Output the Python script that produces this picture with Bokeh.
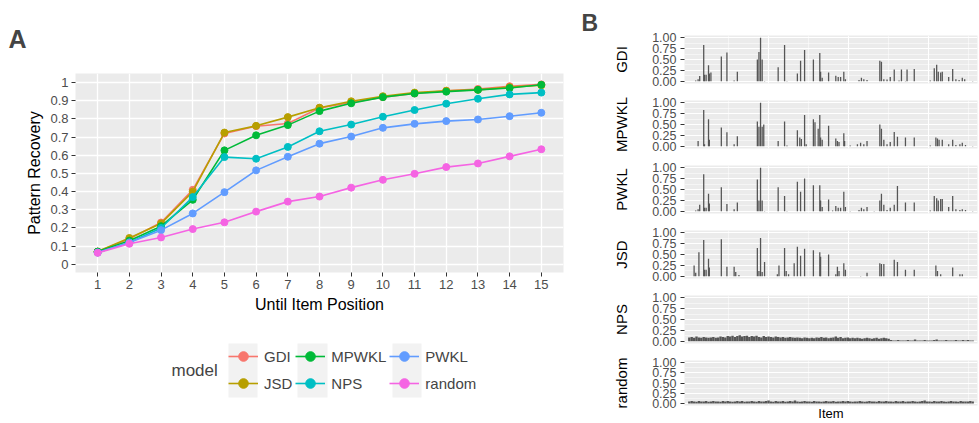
from bokeh.plotting import figure
from bokeh.layouts import row, column
from bokeh.models import (Range1d, FixedTicker, NumeralTickFormatter, Legend,
                          LegendItem, Label, Title, BoxAnnotation)
from bokeh.embed import file_html
from bokeh.resources import INLINE

FONT = "Liberation Sans"
GREY_TXT = "#4D4D4D"
PANEL = "#EBEBEB"

# ---- Panel A: pattern recovery by position ----
positions = list(range(1, 16))
y_ticks = [0, 0.1, 0.2, 0.3, 0.4, 0.5, 0.6, 0.7, 0.8, 0.9, 1.0]

model_names = ["GDI", "JSD", "MPWKL", "NPS", "PWKL", "random"]
model_colors = ["#F8766D", "#B79F00", "#00BA38", "#00BFC4", "#619CFF", "#F564E3"]

gdi = [0.07, 0.14, 0.23, 0.41, 0.72, 0.76, 0.775, 0.86, 0.89, 0.92, 0.94, 0.955, 0.965, 0.98, 0.99]
jsd = [0.07, 0.145, 0.225, 0.40, 0.725, 0.762, 0.81, 0.862, 0.897, 0.925, 0.945, 0.955, 0.96, 0.975, 0.985]
mpwkl = [0.07, 0.13, 0.21, 0.355, 0.627, 0.71, 0.766, 0.843, 0.886, 0.92, 0.94, 0.95, 0.96, 0.97, 0.988]
nps = [0.065, 0.12, 0.20, 0.37, 0.59, 0.581, 0.646, 0.732, 0.769, 0.812, 0.849, 0.884, 0.911, 0.935, 0.945]
pwkl = [0.065, 0.12, 0.188, 0.28, 0.397, 0.517, 0.592, 0.664, 0.703, 0.751, 0.773, 0.788, 0.797, 0.815, 0.834]
random_model = [0.063, 0.113, 0.148, 0.194, 0.231, 0.29, 0.345, 0.373, 0.422, 0.465, 0.498, 0.535, 0.555, 0.594, 0.633]
series = [gdi, jsd, mpwkl, nps, pwkl, random_model]

# ---- Panel B: per-item scores for each model ----
gdi_items = [9, 12, 14, 19, 20, 22, 25, 26, 28, 41, 48, 57, 61, 86, 88, 90, 92, 95, 112, 120, 123,
             136, 140, 145, 156, 164, 165, 167, 175, 184, 187, 190, 194, 196, 213, 216, 219, 223,
             239, 241, 244, 248, 252, 257, 263, 266, 271, 273, 282, 302, 307, 310, 312, 315, 317,
             325, 330, 334, 338, 342, 345, 355]
gdi_scores = [0.02, 0.05, 0.12, 0.83, 0.15, 0.15, 0.37, 0.18, 0.20, 0.57, 0.66, 0.02, 0.22, 0.50,
              0.67, 1.00, 0.50, 0.01, 0.32, 0.83, 0.01, 0.18, 0.47, 0.72, 0.50, 0.65, 0.22, 0.08,
              0.20, 0.13, 0.10, 0.10, 0.22, 0.05, 0.03, 0.08, 0.05, 0.03, 0.47, 0.45, 0.05, 0.04,
              0.10, 0.27, 0.02, 0.27, 0.01, 0.27, 0.28, 0.02, 0.30, 0.38, 0.22, 0.20, 0.22, 0.10,
              0.28, 0.05, 0.03, 0.08, 0.05, 0.01]

mpwkl_items = [12, 19, 20, 25, 26, 41, 48, 57, 61, 86, 88, 90, 92, 94, 112, 120, 123, 136, 139,
               141, 145, 147, 156, 158, 162, 164, 165, 167, 175, 184, 186, 188, 194, 195, 202, 211,
               215, 219, 223, 239, 241, 244, 248, 252, 257, 261, 271, 282, 302, 309, 311, 313, 317,
               325, 330, 334, 339, 342, 346, 355]
mpwkl_scores = [0.12, 0.83, 0.05, 0.62, 0.15, 0.43, 0.32, 0.05, 0.23, 0.57, 0.45, 1.00, 0.45, 0.50,
                0.12, 0.57, 0.02, 0.37, 0.20, 0.17, 0.72, 0.05, 0.62, 0.55, 0.40, 0.72, 0.20, 0.15,
                0.47, 0.18, 0.12, 0.10, 0.30, 0.12, 0.02, 0.05, 0.08, 0.05, 0.12, 0.50, 0.40, 0.15,
                0.05, 0.10, 0.33, 0.22, 0.20, 0.20, 0.02, 0.20, 0.18, 0.15, 0.15, 0.05, 0.15, 0.03,
                0.05, 0.08, 0.03, 0.01]

pwkl_items = [9, 12, 14, 19, 20, 22, 25, 26, 41, 48, 57, 61, 86, 88, 90, 92, 95, 112, 120, 123,
              136, 140, 145, 156, 164, 165, 167, 175, 180, 184, 187, 190, 194, 196, 202, 213, 216,
              219, 223, 232, 239, 241, 244, 248, 252, 257, 261, 271, 282, 302, 307, 310, 312, 315,
              317, 325, 330, 334, 339, 342, 346, 355]
pwkl_scores = [0.02, 0.05, 0.15, 0.85, 0.08, 0.08, 0.40, 0.18, 0.55, 0.17, 0.05, 0.20, 0.73, 0.25,
               1.00, 0.25, 0.01, 0.55, 0.35, 0.01, 0.68, 0.45, 0.75, 0.60, 0.60, 0.25, 0.10, 0.27,
               0.02, 0.12, 0.08, 0.08, 0.45, 0.10, 0.01, 0.03, 0.08, 0.05, 0.10, 0.01, 0.25, 0.40,
               0.15, 0.03, 0.08, 0.15, 0.58, 0.20, 0.20, 0.02, 0.35, 0.30, 0.25, 0.28, 0.28, 0.10,
               0.35, 0.05, 0.03, 0.05, 0.03, 0.01]

jsd_items = [7, 9, 13, 19, 20, 22, 25, 26, 41, 48, 57, 59, 63, 86, 88, 90, 92, 95, 111, 113, 120,
             122, 125, 132, 136, 140, 145, 156, 164, 165, 175, 184, 186, 188, 194, 196, 215, 223,
             239, 241, 244, 257, 261, 271, 282, 309, 311, 315, 330, 339, 342]
jsd_scores = [0.25, 0.08, 0.55, 0.83, 0.15, 0.15, 0.40, 0.20, 0.85, 0.22, 0.22, 0.10, 0.03, 0.65,
              0.12, 0.88, 0.10, 0.33, 0.05, 0.25, 0.65, 0.12, 0.05, 0.30, 0.68, 0.47, 0.63, 0.60,
              0.55, 0.45, 0.50, 0.05, 0.22, 0.12, 0.30, 0.15, 0.01, 0.08, 0.30, 0.28, 0.28, 0.38,
              0.33, 0.15, 0.15, 0.25, 0.12, 0.05, 0.20, 0.05, 0.05]

# NPS and random scores are dense; items sampled every third position
dense_items = list(range(1, 356, 3))
nps_scores = [0.09, 0.10, 0.08, 0.11, 0.09, 0.08, 0.10, 0.09, 0.08, 0.09, 0.10, 0.08, 0.09, 0.11, 0.10, 0.09, 0.12,
              0.11, 0.13, 0.10, 0.12, 0.14, 0.11, 0.12, 0.13, 0.10, 0.12, 0.11, 0.13, 0.10, 0.09, 0.12, 0.10, 0.11,
              0.10, 0.09, 0.11, 0.10, 0.09, 0.10, 0.08, 0.09, 0.10, 0.09, 0.08, 0.09, 0.08, 0.07, 0.09, 0.08, 0.07,
              0.08, 0.07, 0.09, 0.08, 0.10, 0.08, 0.09, 0.07, 0.08, 0.09, 0.11, 0.08, 0.10, 0.07, 0.08, 0.09, 0.07,
              0.08, 0.07, 0.08, 0.07, 0.06, 0.07, 0.08, 0.07, 0.06, 0.07, 0.08, 0.06, 0.07, 0.08, 0.07, 0.06,
              0.03, 0.02, 0.02, 0.03, 0.02, 0.02, 0.02, 0.03, 0.02, 0.02, 0.04, 0.02, 0.02, 0.02, 0.03, 0.02, 0.02,
              0.02, 0.03, 0.04, 0.02, 0.02, 0.02, 0.03, 0.02, 0.02, 0.02, 0.03, 0.02, 0.02, 0.03, 0.02, 0.03, 0.02, 0.02]
random_scores = [0.05, 0.06, 0.05, 0.04, 0.06, 0.05, 0.05, 0.06, 0.04, 0.05, 0.06, 0.05, 0.05, 0.04, 0.06, 0.05, 0.06,
                 0.05, 0.04, 0.05, 0.06, 0.05, 0.06, 0.04, 0.05, 0.05, 0.06, 0.05, 0.04, 0.06, 0.05, 0.05, 0.06, 0.07,
                 0.05, 0.04, 0.06, 0.05, 0.05, 0.06, 0.04, 0.05, 0.06, 0.05, 0.07, 0.05, 0.04, 0.05, 0.06, 0.05, 0.05,
                 0.04, 0.06, 0.05, 0.05, 0.04, 0.05, 0.06, 0.05, 0.05, 0.06, 0.04, 0.05, 0.05, 0.06, 0.05, 0.06, 0.05,
                 0.04, 0.05, 0.05, 0.06, 0.05, 0.04, 0.05, 0.06, 0.05, 0.05, 0.04, 0.06, 0.05, 0.05, 0.06, 0.05,
                 0.05, 0.04, 0.06, 0.05, 0.05, 0.06, 0.04, 0.05, 0.05, 0.06, 0.05, 0.04, 0.05, 0.06, 0.07, 0.05, 0.05,
                 0.04, 0.06, 0.05, 0.05, 0.06, 0.05, 0.04, 0.05, 0.06, 0.05, 0.05, 0.04, 0.06, 0.05, 0.05, 0.05, 0.06, 0.05]

facet_names = ["GDI", "MPWKL", "PWKL", "JSD", "NPS", "random"]
facet_items = [gdi_items, mpwkl_items, pwkl_items, jsd_items, dense_items, dense_items]
facet_scores = [gdi_scores, mpwkl_scores, pwkl_scores, jsd_scores, nps_scores, random_scores]
facet_bar_width = [1.6, 1.6, 1.6, 1.6, 3.0, 3.0]


def style_axis(ax, label_size, title_size):
    ax.axis_line_color = None
    ax.major_tick_line_color = "#333333"
    ax.minor_tick_line_color = None
    ax.major_label_text_font = FONT
    ax.major_label_text_font_size = label_size
    ax.major_label_text_color = GREY_TXT
    ax.axis_label_text_font = FONT
    ax.axis_label_text_font_size = title_size
    ax.axis_label_text_font_style = "normal"
    ax.axis_label_text_color = "black"


# ---------- panel A: line chart ----------
left = figure(width=580, height=320, output_backend="svg", toolbar_location=None,
              x_range=Range1d(0.3, 15.7), y_range=Range1d(-0.045, 1.05),
              min_border_left=75, min_border_right=17, min_border_top=73, min_border_bottom=48)
left.background_fill_color = PANEL
left.outline_line_color = None
left.xaxis.ticker = FixedTicker(ticks=positions)
left.yaxis.ticker = FixedTicker(ticks=y_ticks)
left.yaxis.formatter = NumeralTickFormatter(format="0.[0]")
for ax in left.axis:
    style_axis(ax, "13px", "16px")
    ax.major_tick_out = 4
    ax.major_tick_in = 0
    ax.major_label_standoff = 3
left.xaxis.axis_label = "Until Item Position"
left.yaxis.axis_label = "Pattern Recovery"
left.xaxis.axis_label_standoff = 4
left.yaxis.axis_label_standoff = 4
left.xgrid.grid_line_color = "white"
left.ygrid.grid_line_color = "white"
left.xgrid.grid_line_width = 1.3
left.ygrid.grid_line_width = 1.3

for name, color, vals in zip(model_names, model_colors, series):
    left.line(positions, vals, line_color=color, line_width=1.6)
    left.scatter(positions, vals, size=7, fill_color=color, line_color=color)

left.add_layout(Title(text="A", align="left", offset=-67, standoff=41,
                      text_font=FONT, text_font_size="25px", text_font_style="bold"), "above")

# ---------- legend for panel A ----------
# the legend renderers reuse the series but sit outside this strip's ranges;
# screen positions below are measured from the strip's frame, which lines up with panel A
key = figure(width=580, height=103, output_backend="svg", toolbar_location=None,
             x_axis_type=None, y_axis_type=None,
             x_range=Range1d(100, 101), y_range=Range1d(100, 101), min_border=0)
key.outline_line_color = None
key.grid.visible = False
for lo, hi in [(153, 182), (222, 252), (317, 346)]:
    key.add_layout(BoxAnnotation(left=lo, right=hi, bottom=26, top=80,
                                 left_units="screen", right_units="screen",
                                 bottom_units="screen", top_units="screen",
                                 fill_color="#F2F2F2", fill_alpha=1, line_color=None))
items = []
for name, color, vals in zip(model_names, model_colors, series):
    ln = key.line(positions, vals, line_color=color, line_width=1.6)
    pt = key.scatter(positions, vals, size=7, fill_color=color, line_color=color)
    items.append(LegendItem(label=name, renderers=[ln, pt]))
legend = Legend(items=items, orientation="vertical", nrows=2,
                location=(153, 28), margin=0, padding=0, spacing=3,
                glyph_width=30, glyph_height=24, label_height=24, label_standoff=6,
                label_text_font=FONT, label_text_font_size="15px",
                border_line_color=None, background_fill_alpha=0)
key.add_layout(legend, "center")
key.add_layout(Label(x=96, y=53, x_units="screen", y_units="screen", text="model",
                     text_font=FONT, text_font_size="17px", text_baseline="middle"))

# ---------- panel B: faceted item scores ----------
facets = []
n = len(facet_names)
for i, (name, its, sc, bw) in enumerate(zip(facet_names, facet_items, facet_scores, facet_bar_width)):
    top = 35 if i == 0 else 8
    bottom = 15 if i == n - 1 else 9
    f = figure(width=399, height=top + 48 + bottom, output_backend="svg", toolbar_location=None,
               x_range=Range1d(-5, 361), y_range=Range1d(-0.05, 1.05),
               min_border_left=104, min_border_right=2, min_border_top=top, min_border_bottom=bottom)
    f.background_fill_color = PANEL
    f.outline_line_color = None
    f.vbar(x=its, top=sc, width=bw, fill_color="#555555", line_color=None)
    f.yaxis.ticker = FixedTicker(ticks=[0, 0.25, 0.5, 0.75, 1.0],
                                 minor_ticks=[0.125, 0.375, 0.625, 0.875])
    f.yaxis.formatter = NumeralTickFormatter(format="0.00")
    f.yaxis.axis_label = name
    style_axis(f.yaxis[0], "12.5px", "15px")
    f.yaxis.major_tick_out = 4
    f.yaxis.major_tick_in = 0
    f.yaxis.major_label_standoff = 4
    f.yaxis.axis_label_standoff = 19
    f.xgrid.ticker = FixedTicker(ticks=[100, 200, 300], minor_ticks=[50, 150, 250, 350])
    f.ygrid.ticker = FixedTicker(ticks=[0, 0.25, 0.5, 0.75, 1.0],
                                 minor_ticks=[0.125, 0.375, 0.625, 0.875])
    for g in (f.xgrid[0], f.ygrid[0]):
        g.grid_line_color = "white"
        g.grid_line_width = 1.0
        g.minor_grid_line_color = "white"
        g.minor_grid_line_width = 0.5
    xa = f.xaxis[0]
    xa.ticker = FixedTicker(ticks=[])
    if i == n - 1:
        style_axis(xa, "11px", "13px")
        xa.axis_label = "Item"
        xa.major_tick_out = 0
        xa.major_label_standoff = 0
        xa.axis_label_standoff = 0
    else:
        xa.visible = False
    if i == 0:
        f.add_layout(Title(text="B", align="left", offset=-103, standoff=0,
                           text_font=FONT, text_font_size="23px", text_font_style="bold"),
                     "above")
    facets.append(f)

layout = row(column(left, key), column(*facets))
open("out.html", "w").write(file_html(layout, INLINE))
